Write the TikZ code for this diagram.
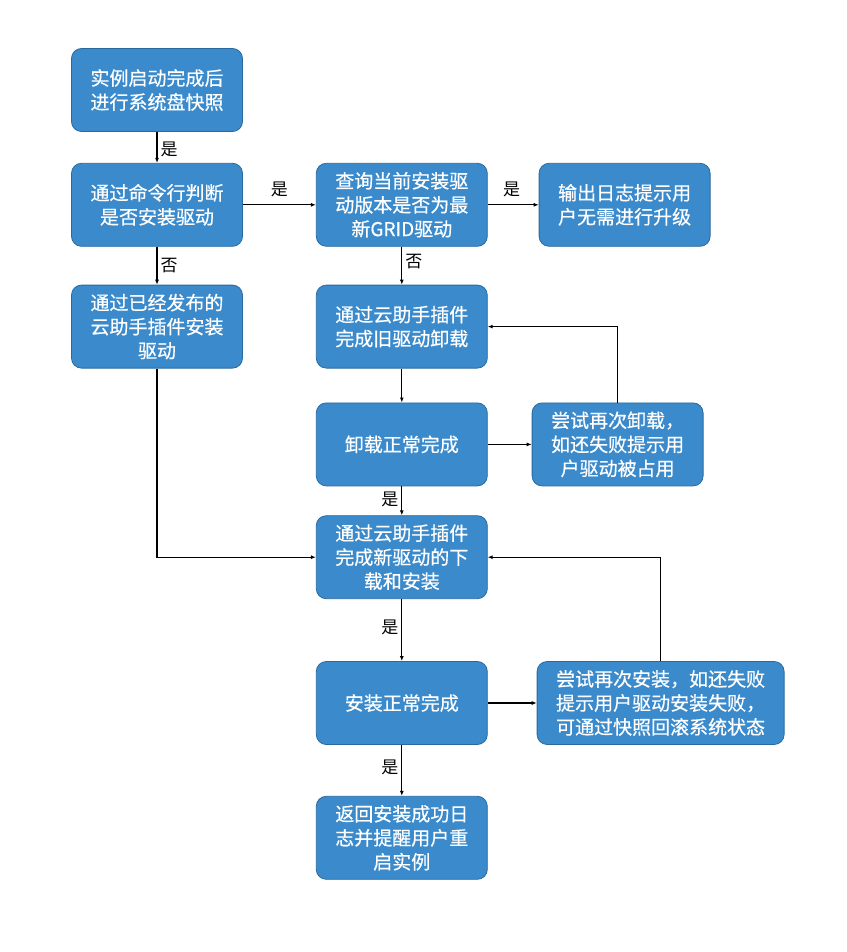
\documentclass[tikz,border=0pt]{standalone}
\usepackage{fontspec}
\setmainfont{Noto Sans CJK SC}
\newfontfamily\boxfont{Noto Sans CJK SC}[FakeBold=0.5]
\usepackage{tikz}
\usetikzlibrary{arrows.meta,positioning}
\definecolor{boxblue}{RGB}{59,139,204}
\definecolor{boxedge}{RGB}{40,105,160}
\tikzset{%
  box/.style={draw=boxedge,fill=boxblue,rounded corners=10pt,align=center,text=white,
    minimum width=171pt,minimum height=83pt,inner sep=2pt,line width=0.8pt,
    font=\boxfont\fontsize{19pt}{24pt}\selectfont},
  arrow/.style={-{Latex[length=5pt,width=4pt]}, line width=1.1pt},
  lbl/.style={text=black,font=\fontsize{17pt}{20pt}\selectfont,inner sep=3pt}%
}

\begin{document}
\begin{tikzpicture}[
    x=1pt, y=1pt,
    node distance=30pt
]
\useasboundingbox (0,0) rectangle (846,-952);

% Nodes
\node[box] (snap) at (157,-90) {实例启动完成后\\进行系统盘快照};
\node[box, below=31pt of snap] (check) {通过命令行判断\\是否安装驱动};
\node[box, below=38pt of check] (plugin) {通过已经发布的\\云助手插件安装\\驱动};
\node[box, right=73pt of check] (query) {查询当前安装驱\\动版本是否为最\\新GRID驱动};
\node[box, right=51pt of query] (latest) {输出日志提示用\\户无需进行升级};
\node[box, below=38pt of query] (uninst) {通过云助手插件\\完成旧驱动卸载};
\node[box, below=34pt of uninst] (uninstok) {卸载正常完成};
\node[box, right=44pt of uninstok] (retryun) {尝试再次卸载，\\如还失败提示用\\户驱动被占用};
\node[box, below=29pt of uninstok] (install) {通过云助手插件\\完成新驱动的下\\载和安装};
\node[box, below=62pt of install] (installok) {安装正常完成};
\node[box, right=49pt of installok, minimum width=247pt] (retryin) {尝试再次安装，如还失败\\提示用户驱动安装失败，\\可通过快照回滚系统状态};
\node[box, below=51pt of installok] (reboot) {返回安装成功日\\志并提醒用户重\\启实例};

% Arrows
\draw[arrow] (snap) -- node[lbl, pos=0.55, right] (y1) {是} (check);
\draw[arrow] (check) -- node[lbl, above, yshift=4pt] (y2) {是} (query);
\draw[arrow] (query) -- node[lbl, pos=0.47, above, yshift=4pt] (y3) {是} (latest);
\draw[arrow] (check) -- node[lbl, pos=0.5, right] (n1) {否} (plugin);
\draw[arrow] (query) -- node[lbl, pos=0.4, right] (n2) {否} (uninst);
\draw[arrow] (uninst) -- (uninstok);
\draw[arrow] (uninstok) -- (retryun);
\draw[arrow] (retryun.north) |- (uninst.east);
\draw[arrow] (uninstok) -- node[lbl, pos=0.45, left] (y4) {是} (install);
\draw[arrow] (plugin.south) |- (install.west);
\draw[arrow] (install) -- node[lbl, pos=0.45, left] (y5) {是} (installok);
\draw[arrow] (installok) -- (retryin);
\draw[arrow] (retryin.north) |- (install.east);
\draw[arrow] (installok) -- node[lbl, pos=0.45, left] (y6) {是} (reboot);

\end{tikzpicture}
\end{document}
